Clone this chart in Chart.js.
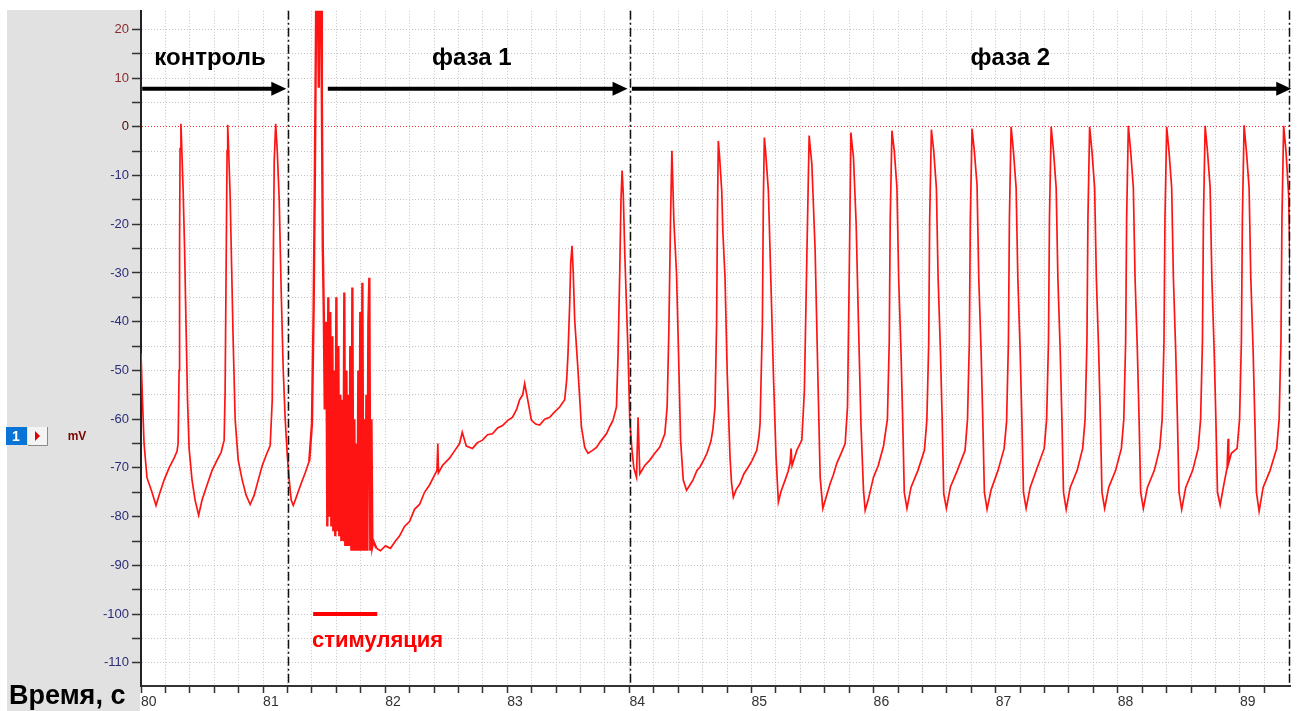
<!DOCTYPE html>
<html>

<head>
  <meta charset="utf-8">
  <title>Потенциал</title>
  <script src="https://cdn.jsdelivr.net/npm/chart.js@4.4.1/dist/chart.umd.min.js"></script>
  <style>
    body { margin: 0; background: #fff; }
    canvas { display: block; }
  </style>
</head>

<body>
  <canvas id="traceChart" width="1297" height="711"></canvas>

  <script>
    // recording values: time (s) and potential (mV)
    const controlTime = [80.000, 80.012, 80.025, 80.049, 80.090, 80.123, 80.148, 80.189, 80.230, 80.271, 80.295, 80.304,
      80.312, 80.316, 80.320, 80.327, 80.332, 80.345, 80.357, 80.369, 80.381, 80.394, 80.418, 80.443, 80.472,
      80.500, 80.541, 80.582, 80.623, 80.656, 80.681, 80.689, 80.697, 80.705, 80.710, 80.718, 80.730, 80.742,
      80.755, 80.771, 80.796, 80.829, 80.861, 80.894, 80.927, 80.960, 80.993, 81.025, 81.058, 81.075, 81.083,
      81.091, 81.103, 81.116, 81.132, 81.148, 81.165, 81.181, 81.198, 81.214, 81.230, 81.247, 81.272, 81.304,
      81.345, 81.378];
    const controlMv = [-46.5, -56, -65, -72, -75, -77.7, -75.6, -72.5, -70, -68, -66.6, -65,
      -50, -24, -4.5, 0.6, -3, -13, -25, -41, -56, -66, -72.5, -76.6, -79.7,
      -76.6, -73.5, -70.5, -68.4, -66.8, -64.3, -54, -29.5, -4.9, 0.4, -5, -14, -28.5,
      -44, -60, -68.4, -72.5, -75.6, -77.5, -75.6, -72.5, -69.5, -67.4, -65.4, -56, -29.5,
      -7, 0.6, -5, -15, -33.6, -50, -60, -67.4, -72.5, -76.6, -77.7, -76, -73.7,
      -71, -68.6];

    const burstTime = [81.400, 81.414, 81.423, 81.436, 81.448, 81.456, 81.464, 81.477, 81.481, 81.489, 81.497, 81.505,
      81.518, 81.526, 81.534, 81.542, 81.550, 81.559, 81.567, 81.575, 81.583, 81.591, 81.600, 81.608,
      81.616, 81.624, 81.632, 81.641, 81.649, 81.657, 81.665, 81.673, 81.682, 81.690, 81.698, 81.706,
      81.714, 81.723, 81.731, 81.739, 81.747, 81.755, 81.764, 81.772, 81.780, 81.788, 81.796, 81.805,
      81.813, 81.821, 81.829, 81.837, 81.846, 81.854, 81.862, 81.870, 81.878, 81.887, 81.895, 81.903];
    const burstMv = [-61, -37, -13, 30, 30, 8, 30, 28, 6, -25, -38, -58,
      -40, -82, -35, -80, -38, -82, -43, -83, -50, -84, -35, -83,
      -45, -84, -55, -85, -56, -85, -34, -86, -50, -86, -55, -86,
      -45, -87, -33, -87, -60, -87, -65, -87, -50, -87, -38, -87,
      -32, -87, -60, -87, -55, -87, -40, -31, -87, -60, -86, -85];

    const phase1Time = [81.928, 81.961, 82.002, 82.043, 82.084, 82.117, 82.158, 82.199, 82.240, 82.281, 82.322, 82.363,
      82.404, 82.424, 82.431, 82.436, 82.469, 82.527, 82.568, 82.609, 82.631, 82.664, 82.715, 82.756,
      82.797, 82.838, 82.879, 82.920, 82.961, 83.002, 83.043, 83.076, 83.101, 83.126, 83.142, 83.167,
      83.197, 83.232, 83.265, 83.306, 83.347, 83.388, 83.429, 83.470, 83.486, 83.497, 83.511, 83.519,
      83.530, 83.540, 83.552, 83.579, 83.607, 83.634, 83.661, 83.692, 83.730, 83.765, 83.812, 83.839,
      83.866, 83.894, 83.907, 83.921, 83.931, 83.940, 83.950, 83.962, 83.989, 84.003, 84.020, 84.036,
      84.058, 84.071, 84.085];
    const phase1Mv = [-86.5, -87, -86, -86.5, -85, -84, -82, -81, -78.5, -77.5, -75, -73.5,
      -71.5, -70.5, -65, -71, -69.5, -68, -66.5, -65, -62.7, -65.5, -66, -64.8,
      -64.3, -63.2, -63, -61.8, -61.3, -60.3, -59.6, -58, -56, -55, -52.7, -56,
      -60.2, -61, -61.2, -60, -59.6, -58.5, -57.5, -56, -52, -46.6, -36.3, -28,
      -24.4, -30, -39.7, -50, -61.6, -65.8, -67, -66.5, -65.8, -64.5, -63, -61.5,
      -60.2, -57.5, -46.6, -29.5, -15, -9, -14, -26, -46.6, -60.2, -66, -70,
      -71.9, -59.6, -71.2];

    const phase2Time = [84.126, 84.167, 84.208, 84.249, 84.290, 84.309, 84.323, 84.337, 84.348, 84.364, 84.386, 84.403,
      84.419, 84.441, 84.468, 84.495, 84.520, 84.553, 84.578, 84.610, 84.635, 84.668, 84.684, 84.701,
      84.714, 84.721, 84.728, 84.738, 84.756, 84.766, 84.783, 84.801, 84.824, 84.836, 84.851, 84.873,
      84.906, 84.938, 84.974, 85.004, 85.043, 85.061, 85.070, 85.089, 85.097, 85.105, 85.115, 85.138,
      85.157, 85.179, 85.201, 85.220, 85.242, 85.275, 85.299, 85.316, 85.324, 85.332, 85.371, 85.412,
      85.433, 85.453, 85.472, 85.480, 85.494, 85.521, 85.540, 85.562, 85.584, 85.611, 85.644, 85.669,
      85.699, 85.734, 85.767, 85.786, 85.802, 85.814, 85.823, 85.835, 85.857, 85.876, 85.896, 85.917,
      85.931, 85.956, 85.999, 86.038, 86.081,
      86.113, 86.128, 86.136, 86.150, 86.169, 86.191, 86.205, 86.224, 86.238, 86.251, 86.273, 86.306, 86.363,
      86.416, 86.436, 86.451, 86.459, 86.473, 86.492, 86.514, 86.528, 86.547, 86.561, 86.574, 86.596, 86.629, 86.686,
      86.749, 86.769, 86.784, 86.792, 86.806, 86.825, 86.847, 86.861, 86.880, 86.894, 86.907, 86.929, 86.962, 87.019,
      87.069, 87.089, 87.104, 87.112, 87.126, 87.145, 87.167, 87.181, 87.200, 87.214, 87.227, 87.249, 87.282, 87.339,
      87.397, 87.417, 87.432, 87.440, 87.454, 87.473, 87.495, 87.509, 87.528, 87.542, 87.555, 87.577, 87.610, 87.667,
      87.712, 87.732, 87.747, 87.755, 87.769, 87.788, 87.810, 87.824, 87.843, 87.857, 87.870, 87.892, 87.925, 87.982,
      88.029, 88.049, 88.064, 88.072, 88.086, 88.105, 88.127, 88.141, 88.160, 88.174, 88.187, 88.209, 88.242, 88.299,
      88.343, 88.363, 88.378, 88.386, 88.400, 88.419, 88.441, 88.455, 88.474, 88.488, 88.501, 88.523, 88.556, 88.613,
      88.658, 88.678, 88.693, 88.701, 88.715, 88.734, 88.756, 88.770, 88.789, 88.803, 88.816, 88.838, 88.871, 88.895,
      88.903, 88.908, 88.930,
      88.977, 88.997, 89.012, 89.020, 89.034, 89.053, 89.075, 89.089, 89.108, 89.122, 89.135, 89.157, 89.190, 89.247,
      89.301, 89.321, 89.336, 89.344, 89.358, 89.377, 89.399, 89.413, 89.432];
    const phase2Mv = [-69.5, -68.4, -67, -65.7, -63, -57.5, -41.8, -18.6, -4.9, -19.3, -30.2, -47.3,
      -64.3, -72.5, -74.6, -73.5, -72.5, -70.5, -69.8, -68.3, -67, -64.5, -62, -57.5,
      -40.4, -18, -2.9, -6, -13.1, -22, -30.9, -50.6, -67.8, -73, -76, -74.5,
      -73.2, -71.2, -69.8, -68.5, -66.4, -63.5, -60.9, -40.4, -15, -2.2, -5, -13.1,
      -30.2, -50.6, -67.8, -77, -74.8, -72.5, -70.8, -69, -66, -69.5, -66.4, -64.3,
      -54.1, -26.8, -1.8, -4, -7.6, -25.4, -47.3, -71.9, -78.3, -76, -73.2, -71.5,
      -69, -67, -65, -57.5, -26.8, -1.2, -3.5, -6.3, -20, -40.4, -60.9, -74.6,
      -78.7, -76.5, -71.9, -69.5, -65.5,
      -60, -44, -19, -0.8, -4.9, -12.5, -31, -46, -60, -75, -78.3, -74, -70.5,
      -66.4, -60.2, -44.5, -19.3, -0.6, -4.9, -12.5, -30.9, -45.9, -59.6, -75.3, -78.3, -73.9, -70.5,
      -66.4, -60, -44, -19, -0.4, -5, -12, -31, -46, -60, -75, -78.5, -74.5, -70.5,
      -66, -60.5, -44, -19, 0, -5, -12.5, -31, -46, -60, -75, -78.3, -74, -70,
      -66, -60, -44, -19, 0, -5, -12.5, -31, -46, -60, -75, -78.5, -74, -70.5,
      -66, -60, -44, -19, 0, -5, -12.5, -31, -46, -60, -75, -78.3, -74, -70.5,
      -66, -60, -44, -19, 0.2, -5, -12.5, -31, -46, -60, -75, -78.3, -74, -70.5,
      -66, -60, -44, -19, 0, -5, -12.5, -31, -46, -60, -75, -78.5, -74, -70.5,
      -66, -60, -44, -19, 0.2, -5, -12.5, -31, -46, -60, -75, -77.6, -73, -70,
      -64, -69, -67,
      -66, -60, -44, -19, 0.3, -5, -12.5, -31, -46, -60, -75, -78.9, -74, -70.5,
      -66, -60, -44, -19, 0.2, -5, -14, -33, -50];

    // stimulation period (s) and phase borders (s)
    const stimStart = 81.41;
    const stimEnd = 81.935;
    const phaseBorders = [81.205, 84.003, 89.405];
    const phaseNames = ['контроль', 'фаза 1', 'фаза 2'];
    const phaseArrows = [[80.01, 81.19], [81.53, 83.985], [84.02, 89.42]];
    const yTicks = [-110, -105, -100, -95, -90, -85, -80, -75, -70, -65, -60, -55, -50, -45, -40, -35,
      -30, -25, -20, -15, -10, -5, 0, 5, 10, 15, 20];

    const toPoints = (t, v) => t.map((x, i) => ({ x: x, y: v[i] }));
    const controlPts = toPoints(controlTime, controlMv);
    const burstPts = toPoints(burstTime, burstMv);
    const restPts = toPoints(phase1Time, phase1Mv).concat(toPoints(phase2Time, phase2Mv));
    // join the pieces so the trace stays continuous
    burstPts.unshift(controlPts[controlPts.length - 1]);
    burstPts.push(restPts[0]);

    const FONT = '"Liberation Sans", Arial, sans-serif';

    const panelPlugin = {
      id: 'panel',
      beforeDraw(chart) {
        const ctx = chart.ctx;
        ctx.save();
        ctx.fillStyle = '#ffffff';
        ctx.fillRect(0, 0, chart.width, chart.height);
        ctx.fillStyle = '#e1e1e1';
        ctx.fillRect(7, 10, 133, chart.height - 10);
        ctx.restore();
      },
      afterDatasetsDraw(chart) {
        const ctx = chart.ctx;
        const xs = chart.scales.x, ys = chart.scales.y;
        const area = chart.chartArea;
        ctx.save();

        // dash-dot phase borders
        ctx.strokeStyle = '#111';
        ctx.lineWidth = 1.5;
        ctx.setLineDash([9, 3, 2, 3]);
        phaseBorders.forEach(t => {
          const px = Math.round(xs.getPixelForValue(t)) + 0.5;
          ctx.beginPath();
          ctx.moveTo(px, area.top);
          ctx.lineTo(px, area.bottom);
          ctx.stroke();
        });
        ctx.setLineDash([]);

        // arrows
        const ay = ys.getPixelForValue(7.8);
        phaseArrows.forEach(([a, b]) => {
          const x1 = xs.getPixelForValue(a), x2 = xs.getPixelForValue(b);
          ctx.strokeStyle = '#000';
          ctx.fillStyle = '#000';
          ctx.lineWidth = 4;
          ctx.beginPath();
          ctx.moveTo(x1, ay);
          ctx.lineTo(x2 - 10, ay);
          ctx.stroke();
          ctx.beginPath();
          ctx.moveTo(x2, ay);
          ctx.lineTo(x2 - 15, ay - 7);
          ctx.lineTo(x2 - 15, ay + 7);
          ctx.closePath();
          ctx.fill();
        });

        // phase titles
        ctx.font = 'bold 24px ' + FONT;
        ctx.textAlign = 'center';
        ctx.textBaseline = 'middle';
        const ty = ys.getPixelForValue(14.1);
        [80.565, 82.71, 87.12].forEach((t, i) => {
          ctx.fillText(phaseNames[i], xs.getPixelForValue(t), ty);
        });

        // stimulation label
        ctx.fillStyle = '#ff0000';
        ctx.textAlign = 'left';
        ctx.font = 'bold 22px ' + FONT;
        ctx.fillText('стимуляция', xs.getPixelForValue(81.4), ys.getPixelForValue(-105.6));

        // axis title
        ctx.fillStyle = '#000';
        ctx.font = 'bold 27px ' + FONT;
        ctx.fillText('Время, с', 9, 697);

        // channel widget
        ctx.fillStyle = '#0a74d6';
        ctx.fillRect(6, 427, 21, 18);
        ctx.fillStyle = '#fff';
        ctx.font = 'bold 14px ' + FONT;
        ctx.textAlign = 'center';
        ctx.fillText('1', 16, 437);
        ctx.fillStyle = '#f4f4f4';
        ctx.fillRect(28, 427, 19, 18);
        ctx.strokeStyle = '#8a8a8a';
        ctx.lineWidth = 1;
        ctx.beginPath();
        ctx.moveTo(47.5, 427);
        ctx.lineTo(47.5, 445.5);
        ctx.lineTo(28, 445.5);
        ctx.stroke();
        ctx.fillStyle = '#e00000';
        ctx.beginPath();
        ctx.moveTo(35, 431);
        ctx.lineTo(40, 436);
        ctx.lineTo(35, 441);
        ctx.closePath();
        ctx.fill();
        ctx.fillStyle = '#7a0000';
        ctx.font = 'bold 12px ' + FONT;
        ctx.fillText('mV', 77, 437);
        ctx.restore();
      }
    };

    const traceStyle = { showLine: true, borderColor: '#ff1414', pointRadius: 0, tension: 0 };

    const chart = new Chart(document.getElementById('traceChart'), {
      type: 'scatter',
      data: {
        datasets: [
          Object.assign({ data: controlPts, borderWidth: 1.7 }, traceStyle),
          Object.assign({ data: burstPts, borderWidth: 2.4 }, traceStyle),
          Object.assign({ data: restPts, borderWidth: 1.7 }, traceStyle),
          {
            data: [{ x: stimStart, y: -100 }, { x: stimEnd, y: -100 }],
            showLine: true,
            borderColor: '#ff0000',
            borderWidth: 4,
            pointRadius: 0
          }
        ]
      },
      options: {
        responsive: false,
        animation: false,
        layout: { padding: { top: 10, right: 7, left: 0, bottom: 0 } },
        plugins: { legend: { display: false }, tooltip: { enabled: false } },
        scales: {
          x: {
            type: 'linear',
            min: 80,
            max: 89.41,
            afterFit: s => { s.height = 25; },
            afterBuildTicks: s => {
              s.ticks = s.ticks.filter(t => Math.abs(t.value * 5 - Math.round(t.value * 5)) < 1e-6);
            },
            ticks: {
              stepSize: 0.2,
              autoSkip: false,
              maxRotation: 0,
              align: 'start',
              padding: 1,
              color: '#333',
              font: { size: 14, family: FONT },
              callback: v => Math.abs(v - Math.round(v)) < 1e-6 ? String(Math.round(v)) : ''
            },
            grid: {
              color: '#c4c4c4',
              lineWidth: 1,
              tickLength: 7,
              tickColor: '#333',
              tickWidth: 1.5
            },
            border: { display: true, color: '#333', width: 2, dash: [1, 2] }
          },
          y: {
            type: 'linear',
            min: -114.75,
            max: 23.8,
            afterFit: s => { s.width = 141; },
            afterBuildTicks: s => { s.ticks = yTicks.map(v => ({ value: v })); },
            ticks: {
              autoSkip: false,
              padding: 3,
              font: { size: 13, family: FONT },
              color: c => c.tick.value > 0 ? '#8a2a2a' : (c.tick.value === 0 ? '#4a0a0a' : '#2c2c78'),
              callback: v => v % 10 === 0 ? String(v) : ''
            },
            grid: {
              color: c => c.tick && c.tick.value === 0 ? '#ff3030' : '#c4c4c4',
              lineWidth: 1,
              tickLength: 9,
              tickColor: '#333',
              tickWidth: 1.5
            },
            border: { display: true, color: '#222', width: 2, dash: [1, 2] }
          }
        }
      },
      plugins: [panelPlugin]
    });
  </script>
</body>

</html>
